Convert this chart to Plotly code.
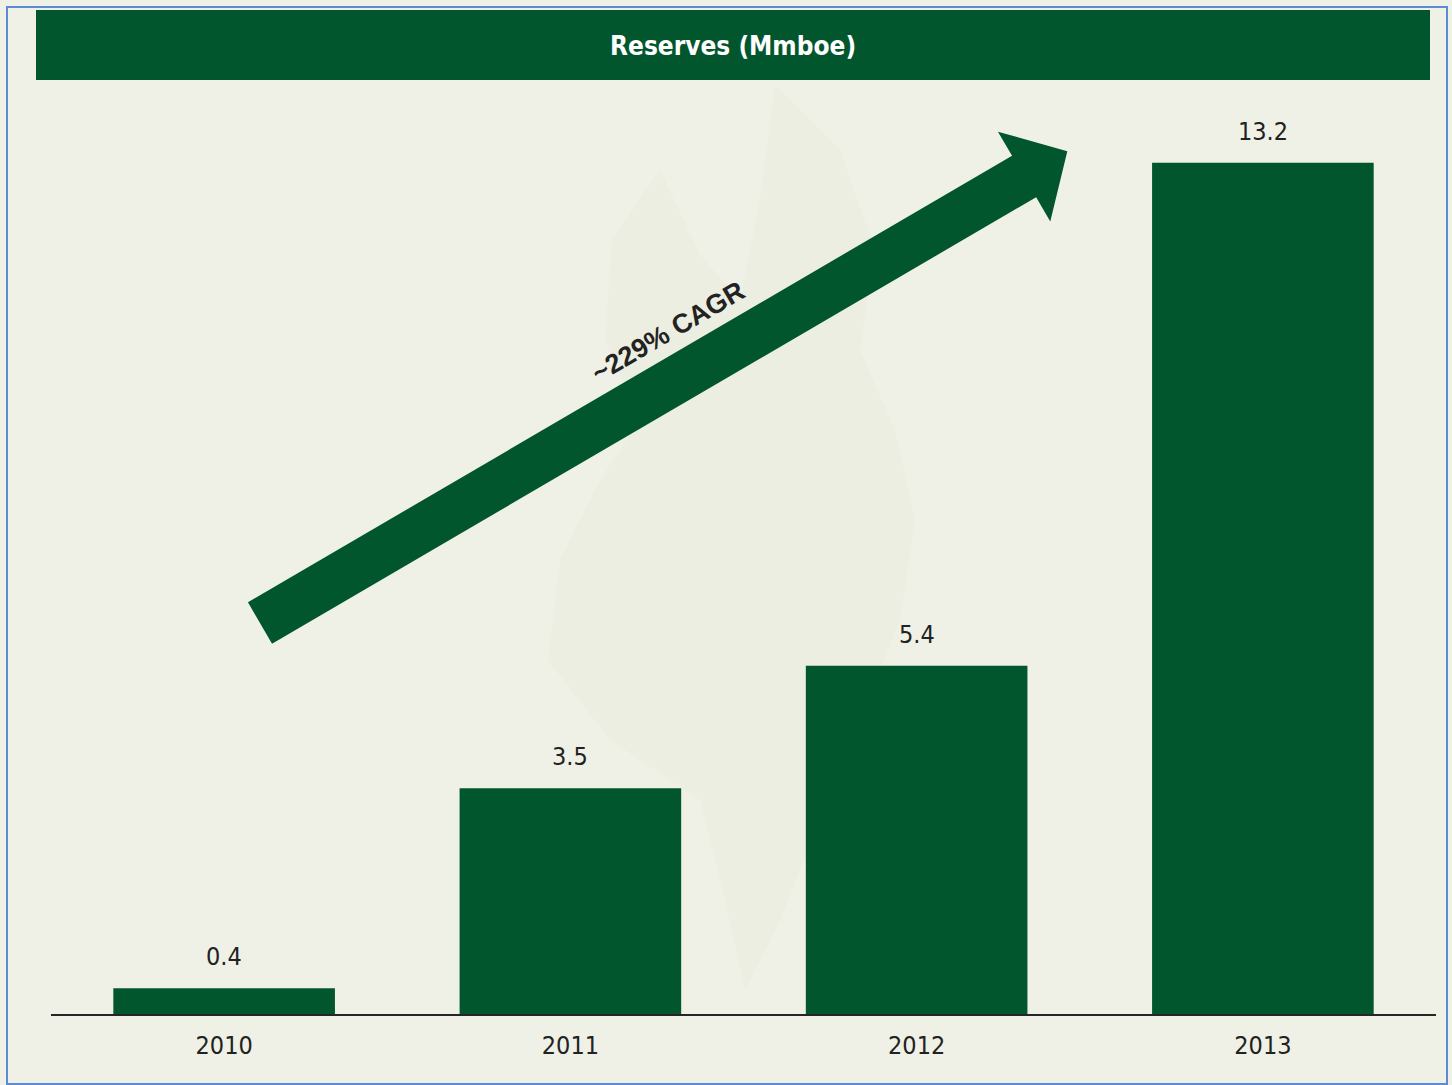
import math
import plotly.graph_objects as go

years = ["2010", "2011", "2012", "2013"]
reserves = [0.4, 3.5, 5.4, 13.2]
value_labels = ["0.4", "3.5", "5.4", "13.2"]
title_text = "Reserves (Mmboe)"
cagr_text = "~229% CAGR"

W, H = 1452, 1085
ML, MR, MT, MB = 51, 16, 79, 71
PW, PH = W - ML - MR, H - MT - MB
GREEN = "#02562e"
BG = "#eff1e6"
FONT = "DejaVu Sans Condensed, Liberation Sans Narrow, Liberation Sans, sans-serif"

def px(x):
    return (x - ML) / PW

def py(y):
    return (H - MB - y) / PH

fig = go.Figure()
fig.add_trace(go.Bar(
    x=years, y=reserves, marker=dict(color=GREEN, line=dict(width=0)),
    width=0.64, hoverinfo="skip",
))

shapes = []
# page border
shapes.append(dict(type="rect", xref="paper", yref="paper", x0=px(7), x1=px(1447),
                   y0=py(7), y1=py(1084), line=dict(color="#5b8bd0", width=2),
                   fillcolor="rgba(0,0,0,0)", layer="below"))
# faint flame watermark
flame = [(775, 85), (840, 150), (875, 250), (860, 350), (895, 430), (915, 520),
         (900, 620), (860, 720), (820, 820), (780, 920), (745, 990), (725, 900),
         (700, 800), (610, 740), (548, 660), (560, 560), (600, 480), (640, 420),
         (605, 340), (612, 240), (660, 170), (700, 255), (740, 300), (760, 200)]
fp = "M " + " L ".join(f"{px(a):.4f} {py(b):.4f}" for a, b in flame) + " Z"
shapes.append(dict(type="path", xref="paper", yref="paper", path=fp,
                   fillcolor="#e6ebda", line=dict(width=0), layer="below", opacity=0.45))
# title bar
shapes.append(dict(type="rect", xref="paper", yref="paper", x0=px(36), x1=px(1430),
                   y0=py(80), y1=py(10), fillcolor=GREEN, line=dict(width=0)))

# arrow polygon
T = (260.0, 623.0)
ang = math.radians(30.3)
u = (math.cos(ang), -math.sin(ang))
n = (math.sin(ang), math.cos(ang))
shaft_len, head_len, hw, hh = 885.0, 50.0, 24.0, 52.0
def pt(s, t):
    return (T[0] + s * u[0] + t * n[0], T[1] + s * u[1] + t * n[1])
poly = [pt(0, -hw), pt(shaft_len, -hw), pt(shaft_len, -hh), pt(shaft_len + head_len, 0),
        pt(shaft_len, hh), pt(shaft_len, hw), pt(0, hw)]
ap = "M " + " L ".join(f"{px(a):.4f} {py(b):.4f}" for a, b in poly) + " Z"
shapes.append(dict(type="path", xref="paper", yref="paper", path=ap,
                   fillcolor=GREEN, line=dict(width=0)))

annotations = []
annotations.append(dict(text=f"<b>{title_text}</b>", xref="paper", yref="paper",
                        x=px(733), y=py(46), xanchor="center", yanchor="middle",
                        showarrow=False,
                        font=dict(color="white", size=26, family=FONT)))
cx, cy = pt(499, -46)
annotations.append(dict(text=f"<b>{cagr_text}</b>", xref="paper", yref="paper",
                        x=px(cx), y=py(cy), xanchor="center", yanchor="middle",
                        showarrow=False, textangle=-30.3,
                        font=dict(color="#222222", size=27,
                                  family="Liberation Sans, Arial, sans-serif")))
for i, (v, lab) in enumerate(zip(reserves, value_labels)):
    annotations.append(dict(text=lab, x=i, y=v, xref="x", yref="y", showarrow=False,
                            xanchor="center", yanchor="bottom", yshift=15,
                            font=dict(color="#222222", size=25, family=FONT)))

fig.update_layout(
    width=W, height=H, margin=dict(l=ML, r=MR, t=MT, b=MB),
    paper_bgcolor=BG, plot_bgcolor=BG, showlegend=False,
    shapes=shapes, annotations=annotations,
    xaxis=dict(type="category", showline=True, linecolor="#262626", linewidth=2,
               showgrid=False, ticks="outside", ticklen=8, tickcolor="rgba(0,0,0,0)",
               tickfont=dict(color="#222222", size=25, family=FONT), zeroline=False,
               range=[-0.5, 3.5]),
    yaxis=dict(visible=False, range=[0, 14.5], showgrid=False, zeroline=False),
)
fig.write_html("out.html")
